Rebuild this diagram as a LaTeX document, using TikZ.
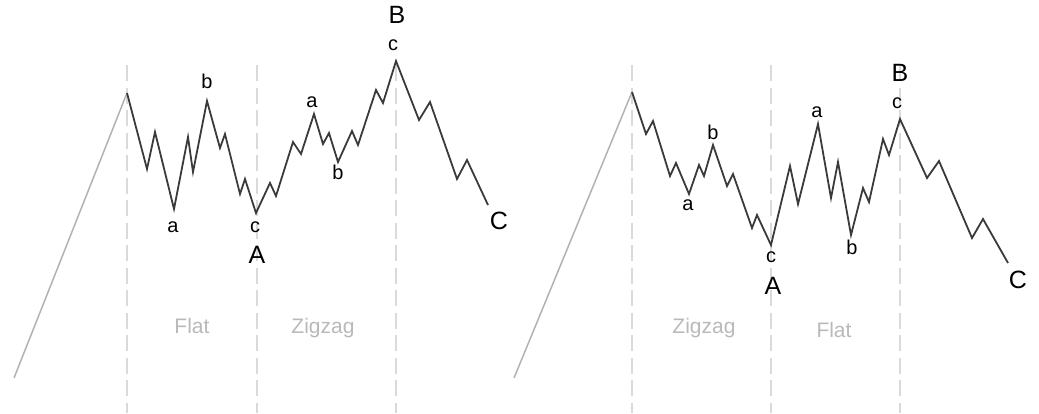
\documentclass[tikz,border=0pt]{standalone}
\usepackage{fontspec}
\setmainfont{Liberation Sans}
\usepackage{tikz}
\usetikzlibrary{positioning}
\definecolor{WaveGray}{RGB}{58,58,58}
\definecolor{LeadGray}{RGB}{178,178,178}
\definecolor{DivGray}{RGB}{218,218,218}
\definecolor{TypeGray}{RGB}{185,185,185}

\begin{document}
\begin{tikzpicture}[
  x=1pt, y=-1pt,
  wave/.style={draw=WaveGray, line width=1.8pt, line join=miter},
  lead/.style={draw=LeadGray, line width=1.5pt},
  divider/.style={draw=DivGray, line width=2.2pt, dash pattern=on 16pt off 6.5pt},
  sublbl/.style={inner sep=0pt, font=\fontsize{20}{20}\selectfont},
  mainlbl/.style={inner sep=0pt, font=\fontsize{25}{25}\selectfont},
  typelbl/.style={inner sep=0pt, anchor=base, text=TypeGray,
                  font=\fontsize{21}{21}\selectfont},
]
\useasboundingbox (0,0) rectangle (1039,413);

% dividers
\foreach \dx in {127,257,396,632,771,900}
  \draw[divider] (\dx,65) -- (\dx,413);

% left: flat then zigzag
\coordinate (Lstart) at (14,378);
\coordinate (Ltop) at (127,93);
\coordinate (La) at (174,209);
\coordinate (Lb) at (207,101);
\coordinate (LA) at (256,213);
\coordinate (Lza) at (314,114);
\coordinate (Lzb) at (338,162);
\coordinate (LB) at (396,61);
\coordinate (LC) at (488,205);

\draw[lead] (Lstart) -- (Ltop);
\draw[wave] (Ltop) -- (147,169) -- (155,132) -- (La) -- (188,137) -- (193,172)
  -- (Lb) -- (220,148) -- (225,134) -- (240,194) -- (245,179) -- (LA)
  -- (270,183) -- (276,196) -- (293,142) -- (301,154) -- (Lza) -- (323,144)
  -- (329,133) -- (Lzb) -- (352,131) -- (358,145) -- (376,90) -- (383,103)
  -- (LB) -- (419,120) -- (430,102) -- (457,179) -- (467,160) -- (LC);

\node[sublbl] (la) at (173,227) {a};
\node[sublbl] (lb) at (207,81) {b};
\node[sublbl] (lc) at (255,227) {c};
\node[mainlbl] (lA) at (257,255) {A};
\node[sublbl] (lza) at (312,102) {a};
\node[sublbl] (lzb) at (338,172) {b};
\node[sublbl] (lzc) at (393,45) {c};
\node[mainlbl] (lB) at (397,15) {B};
\node[mainlbl] (lC) at (499,221) {C};
\node[typelbl] (lflat) at (192,333) {Flat};
\node[typelbl] (lzig) at (323,333) {Zigzag};

% right: zigzag then flat
\coordinate (Rstart) at (514,378);
\coordinate (Rtop) at (632,92);
\coordinate (Ra) at (689,194);
\coordinate (Rb) at (713,145);
\coordinate (RA) at (771,245);
\coordinate (Rfa) at (818,124);
\coordinate (Rfb) at (851,235);
\coordinate (RB) at (900,119);
\coordinate (RC) at (1008,263);

\draw[lead] (Rstart) -- (Rtop);
\draw[wave] (Rtop) -- (646,134) -- (653,121) -- (670,176) -- (676,163) -- (Ra)
  -- (699,165) -- (704,176) -- (Rb) -- (727,186) -- (733,174) -- (752,228)
  -- (757,215) -- (RA) -- (790,166) -- (798,204) -- (Rfa) -- (831,198)
  -- (838,162) -- (Rfb) -- (863,188) -- (869,202) -- (883,139) -- (889,155)
  -- (RB) -- (927,178) -- (939,161) -- (972,238) -- (983,219) -- (RC);

\node[sublbl] (ra) at (688,205) {a};
\node[sublbl] (rb) at (713,132) {b};
\node[sublbl] (rc) at (771,257) {c};
\node[mainlbl] (rA) at (773,286) {A};
\node[sublbl] (rfa) at (817,112) {a};
\node[sublbl] (rfb) at (852,247) {b};
\node[sublbl] (rfc) at (897,103) {c};
\node[mainlbl] (rB) at (900,73) {B};
\node[mainlbl] (rC) at (1018,280) {C};
\node[typelbl] (rzig) at (704,333) {Zigzag};
\node[typelbl] (rflat) at (834,337) {Flat};
\end{tikzpicture}
\end{document}
